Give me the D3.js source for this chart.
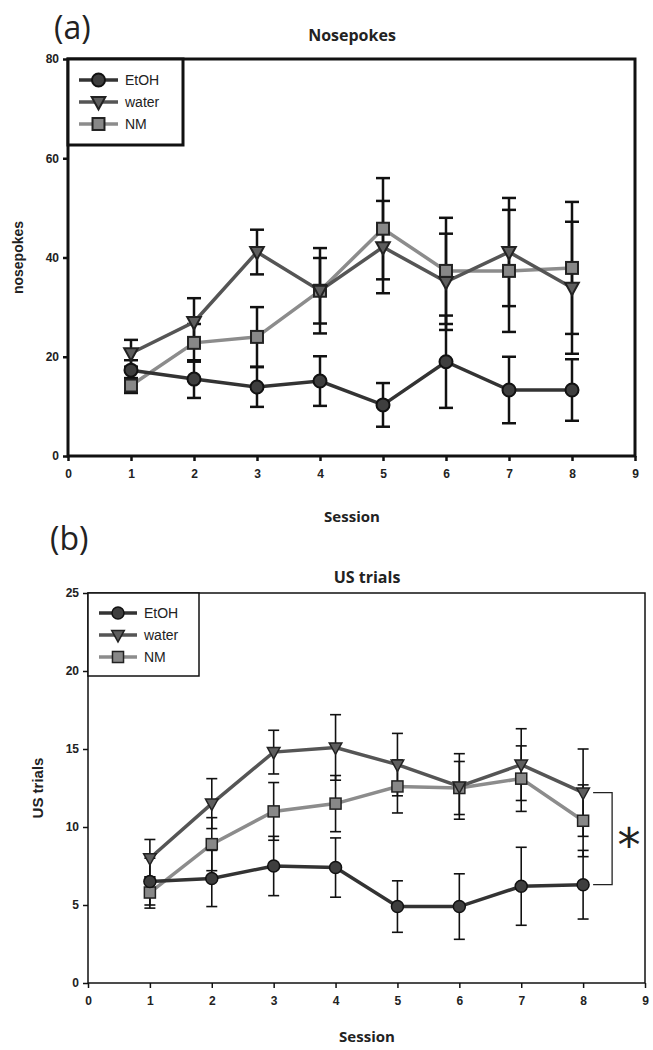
<!DOCTYPE html>
<html>
<head>
<meta charset="utf-8">
<script src="https://cdn.jsdelivr.net/npm/d3@7"></script>
<style>
  body { margin: 0; background: #fff; }
  svg { display: block; }
  text { font-family: "Liberation Sans", Arial, sans-serif; fill: #222; }
</style>
</head>
<body>
<svg id="chart" width="653" height="1050"></svg>
<script>
// ---------- data ----------
const sessions = [1, 2, 3, 4, 5, 6, 7, 8];
const seriesNames = ["EtOH", "water", "NM"];

// Panel (a): Nosepokes
const nosepokesEtOH     = [17.3, 15.5, 13.9, 15.1, 10.3, 19.0, 13.3, 13.3];
const nosepokesEtOHErr  = [2.0, 3.8, 4.0, 5.0, 4.4, 9.3, 6.7, 6.2];
const nosepokesWater    = [20.7, 27.0, 41.1, 33.3, 42.1, 35.1, 41.1, 33.9];
const nosepokesWaterErr = [2.7, 4.8, 4.5, 8.6, 9.3, 9.7, 10.9, 13.3];
const nosepokesNM       = [14.2, 22.8, 24.0, 33.3, 45.8, 37.3, 37.3, 37.9];
const nosepokesNMErr    = [1.5, 3.8, 6.0, 6.6, 10.2, 10.7, 12.3, 13.3];
const nosepokesYTicks   = [0, 20, 40, 60, 80];

// Panel (b): US trials
const usEtOH     = [6.5, 6.7, 7.5, 7.4, 4.9, 4.9, 6.2, 6.3];
const usEtOHErr  = [1.5, 1.8, 1.9, 1.9, 1.65, 2.1, 2.5, 2.2];
const usWater    = [8.0, 11.5, 14.8, 15.1, 14.0, 12.6, 14.0, 12.2];
const usWaterErr = [1.2, 1.6, 1.4, 2.1, 2.0, 2.1, 2.3, 2.8];
const usNM       = [5.8, 8.9, 11.0, 11.5, 12.6, 12.5, 13.1, 10.4];
const usNMErr    = [1.0, 1.7, 1.85, 1.8, 1.7, 1.7, 2.1, 2.3];
const usYTicks   = [0, 5, 10, 15, 20, 25];

const xTicks = [0, 1, 2, 3, 4, 5, 6, 7, 8, 9];

// ---------- styles ----------
const styles = {
  EtOH:  { line: "#333", fill: "#3e3e3e", stroke: "#111", shape: "circle" },
  water: { line: "#555", fill: "#5e5e5e", stroke: "#222", shape: "triangle" },
  NM:    { line: "#8c8c8c", fill: "#888", stroke: "#222", shape: "square" }
};

const svg = d3.select("#chart");

function drawMarker(g, shape, cx, cy, size, st, sw) {
  if (shape === "circle") {
    g.append("circle").attr("cx", cx).attr("cy", cy).attr("r", size * 0.5)
      .attr("fill", st.fill).attr("stroke", st.stroke).attr("stroke-width", sw);
  } else if (shape === "square") {
    const s = size * 0.92;
    g.append("rect").attr("x", cx - s / 2).attr("y", cy - s / 2).attr("width", s).attr("height", s)
      .attr("fill", st.fill).attr("stroke", st.stroke).attr("stroke-width", sw);
  } else {
    const w = size * 1.05, h = size * 0.95;
    const pts = [[cx - w / 2, cy - h * 0.4], [cx + w / 2, cy - h * 0.4], [cx, cy + h * 0.6]];
    g.append("path").attr("d", "M" + pts.map(p => p.join(",")).join("L") + "Z")
      .attr("fill", st.fill).attr("stroke", st.stroke).attr("stroke-width", sw);
  }
}

function panel(cfg) {
  const x = d3.scaleLinear().domain([0, 9]).range([cfg.x0, cfg.x1]);
  const y = d3.scaleLinear().domain([0, cfg.yMax]).range([cfg.y0, cfg.y1]);
  const g = svg.append("g");

  // frame
  g.append("rect").attr("x", x(0)).attr("y", y(cfg.yMax))
    .attr("width", x(9) - x(0)).attr("height", y(0) - y(cfg.yMax))
    .attr("fill", "none").attr("stroke", "#111").attr("stroke-width", cfg.frameW);

  // x axis
  const xAxis = d3.axisBottom(x).tickValues(xTicks).tickSize(cfg.tickLen).tickPadding(cfg.xPad);
  const gx = g.append("g").attr("transform", `translate(0,${y(0)})`).call(xAxis);
  gx.select(".domain").remove();
  gx.selectAll("line").attr("stroke", "#111").attr("stroke-width", cfg.tickW);
  gx.selectAll("text").attr("font-size", cfg.tickFont).attr("font-weight", "bold").attr("fill", "#333")
    .style("font-family", "'Liberation Sans', Arial, sans-serif");

  // y axis
  const yAxis = d3.axisLeft(y).tickValues(cfg.yTicks).tickSize(cfg.tickLen).tickPadding(cfg.yPad);
  const gy = g.append("g").attr("transform", `translate(${x(0)},0)`).call(yAxis);
  gy.select(".domain").remove();
  gy.selectAll("line").attr("stroke", "#111").attr("stroke-width", cfg.tickW);
  gy.selectAll("text").attr("font-size", cfg.tickFont).attr("font-weight", "bold").attr("fill", "#333")
    .style("font-family", "'Liberation Sans', Arial, sans-serif");

  // labels
  g.append("text").attr("x", cfg.letterX).attr("y", cfg.letterY).text(cfg.letter)
    .attr("font-size", 32).style("font-family", "'Open Sans', 'DejaVu Sans', sans-serif").attr("fill", "#111");
  g.append("text").attr("x", cfg.titleX).attr("y", cfg.titleY).attr("text-anchor", "middle")
    .attr("font-size", 16).attr("font-weight", "bold").text(cfg.title)
    .style("font-family", "'Open Sans', 'DejaVu Sans', sans-serif").attr("fill", "#111");
  g.append("text").attr("x", cfg.titleX).attr("y", cfg.xLabelY).attr("text-anchor", "middle")
    .attr("font-size", 15).attr("font-weight", "bold").text("Session")
    .style("font-family", "'Open Sans', 'DejaVu Sans', sans-serif").attr("fill", "#222");
  g.append("text").attr("transform", `translate(${cfg.yLabelX},${(y(0) + y(cfg.yMax)) / 2}) rotate(-90)`)
    .attr("text-anchor", "middle").attr("font-size", cfg.yLabelFont).attr("font-weight", "bold").text(cfg.yLabel)
    .attr("fill", "#111");

  const series = [
    { name: "EtOH", v: cfg.data.EtOH[0], e: cfg.data.EtOH[1] },
    { name: "water", v: cfg.data.water[0], e: cfg.data.water[1] },
    { name: "NM", v: cfg.data.NM[0], e: cfg.data.NM[1] }
  ];

  // error bars
  series.forEach(s => {
    sessions.forEach((sx, i) => {
      const xx = x(sx), hi = y(s.v[i] + s.e[i]), lo = y(s.v[i] - s.e[i]);
      g.append("line").attr("x1", xx).attr("x2", xx).attr("y1", hi).attr("y2", lo)
        .attr("stroke", "#111").attr("stroke-width", cfg.errW);
      [hi, lo].forEach(yy => g.append("line").attr("x1", xx - cfg.cap).attr("x2", xx + cfg.cap)
        .attr("y1", yy).attr("y2", yy).attr("stroke", "#111").attr("stroke-width", cfg.errW));
    });
  });

  // lines and markers
  const line = d3.line().x((d, i) => x(sessions[i])).y(d => y(d));
  ["NM", "water", "EtOH"].forEach(n => {
    const s = series.find(q => q.name === n);
    g.append("path").attr("d", line(s.v)).attr("fill", "none")
      .attr("stroke", styles[n].line).attr("stroke-width", cfg.lineW);
  });
  ["NM", "water", "EtOH"].forEach(n => {
    const s = series.find(q => q.name === n);
    sessions.forEach((sx, i) => drawMarker(g, styles[n].shape, x(sx), y(s.v[i]), cfg.marker, styles[n], cfg.markerSW));
  });

  // legend
  const lg = g.append("g");
  lg.append("rect").attr("x", x(0)).attr("y", y(cfg.yMax)).attr("width", cfg.legW).attr("height", cfg.legH)
    .attr("fill", "#fff").attr("stroke", "#111").attr("stroke-width", cfg.frameW);
  seriesNames.forEach((n, i) => {
    const yy = y(cfg.yMax) + cfg.legY0 + i * cfg.legDy;
    lg.append("line").attr("x1", cfg.legL0).attr("x2", cfg.legL1).attr("y1", yy).attr("y2", yy)
      .attr("stroke", styles[n].line).attr("stroke-width", cfg.lineW);
    drawMarker(lg, styles[n].shape, (cfg.legL0 + cfg.legL1) / 2, yy, cfg.marker, styles[n], cfg.markerSW);
    lg.append("text").attr("x", cfg.legT).attr("y", yy + 5).text(n).attr("font-size", 14).attr("fill", "#222");
  });

  return { g, x, y };
}

// Panel (a)
panel({
  x0: 68, x1: 635, y0: 456, y1: 59, yMax: 80, yTicks: nosepokesYTicks,
  frameW: 3, tickLen: 5, tickW: 2.5, tickFont: 12, xPad: 8, yPad: 4,
  letter: "(a)", letterX: 54, letterY: 39, title: "Nosepokes", titleX: 352, titleY: 41,
  xLabelY: 522, yLabel: "nosepokes", yLabelX: 23, yLabelFont: 14,
  data: { EtOH: [nosepokesEtOH, nosepokesEtOHErr], water: [nosepokesWater, nosepokesWaterErr], NM: [nosepokesNM, nosepokesNMErr] },
  errW: 2.5, cap: 7, lineW: 3.5, marker: 13, markerSW: 2,
  legW: 115, legH: 86, legY0: 21, legDy: 22, legL0: 79, legL1: 118, legT: 125
});

// Panel (b)
const pb = panel({
  x0: 88, x1: 645, y0: 983, y1: 593, yMax: 25, yTicks: usYTicks,
  frameW: 1.5, tickLen: 5, tickW: 1.5, tickFont: 12, xPad: 8, yPad: 4,
  letter: "(b)", letterX: 50, letterY: 550, title: "US trials", titleX: 367, titleY: 583,
  xLabelY: 1042, yLabel: "US trials", yLabelX: 43, yLabelFont: 15,
  data: { EtOH: [usEtOH, usEtOHErr], water: [usWater, usWaterErr], NM: [usNM, usNMErr] },
  errW: 1.6, cap: 5.5, lineW: 3.5, marker: 12, markerSW: 1.5,
  legW: 111, legH: 83, legY0: 20, legDy: 22, legL0: 99, legL1: 137, legT: 144
});

// significance bracket panel (b)
{
  const { g, x, y } = pb;
  const xr = x(8) + 29, xl = x(8) + 10;
  const yT = y(usWater[7]), yB = y(usEtOH[7]);
  g.append("path").attr("d", `M${xl},${yT}H${xr}V${yB}H${xl}`)
    .attr("fill", "none").attr("stroke", "#222").attr("stroke-width", 1.3);
  g.append("text").attr("x", xr + 17).attr("y", (yT + yB) / 2 + 22).attr("text-anchor", "middle")
    .attr("font-size", 46).text("*").style("font-family", "'DejaVu Sans', sans-serif").attr("fill", "#111");
}
</script>
</body>
</html>
